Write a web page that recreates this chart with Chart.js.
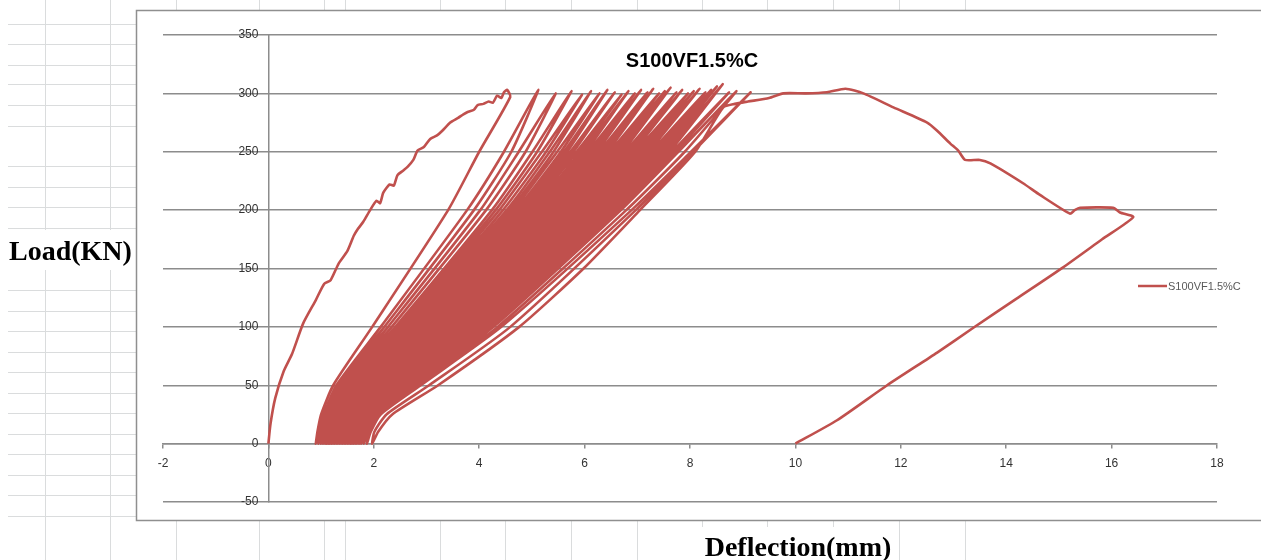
<!DOCTYPE html>
<html>
<head>
<meta charset="utf-8">
<title>S100VF1.5%C</title>
<script src="https://cdn.jsdelivr.net/npm/chart.js@4.4.1/dist/chart.umd.min.js"></script>
<style>
  html, body { margin: 0; padding: 0; background: #fff; }
  canvas { display: block; }
</style>
</head>
<body>
<canvas id="chart" width="1261" height="560"></canvas>
<script>
const chartTitle = "S100VF1.5%C";
const seriesName = "S100VF1.5%C";
const yAxisTitle = "Load(KN)";
const xAxisTitle = "Deflection(mm)";

const xTickValues = [-2, 0, 2, 4, 6, 8, 10, 12, 14, 16, 18];
const yTickValues = [-50, 0, 50, 100, 150, 200, 250, 300, 350];

// first loading branch, 0 -> ~300 kN
const firstLoadDefl = [0, 0.04, 0.13, 0.29, 0.45, 0.66, 0.90, 1.06, 1.18, 1.33, 1.50, 1.62, 1.70, 1.80, 1.93,
  2.05, 2.12, 2.18, 2.30, 2.38, 2.45, 2.56, 2.64, 2.75, 2.83, 2.95, 3.07, 3.20, 3.30, 3.45, 3.60, 3.70,
  3.78, 3.90, 3.97, 4.08, 4.18, 4.26, 4.34, 4.42, 4.47, 4.53, 4.59];
const firstLoadLoad = [0, 17, 39, 62, 77, 103, 123, 137, 140, 154, 165, 178, 184, 190, 200,
  208, 206, 215, 222, 221, 230, 234, 237, 243, 251, 254, 261, 264, 268, 275, 279, 282,
  284, 286, 290, 291, 293, 292, 298, 296, 301, 303, 297];

// cycles: unload to the residual deflection, then reload to the next peak (one row per cycle)
const cycleDefl = [
  4.00, 3.41, 1.97, 1.23, 1.00, 0.93, 0.90, 0.94, 1.05, 1.29, 2.13, 3.77, 4.47, 5.12,
  4.61, 3.90, 2.20, 1.33, 1.08, 0.97, 0.95, 1.00, 1.11, 1.37, 2.27, 4.02, 4.75, 5.45,
  4.88, 4.13, 2.34, 1.41, 1.14, 1.03, 1.00, 1.05, 1.17, 1.45, 2.41, 4.24, 5.01, 5.75,
  5.10, 4.31, 2.46, 1.49, 1.19, 1.07, 1.04, 1.09, 1.21, 1.52, 2.50, 4.38, 5.19, 5.95,
  5.27, 4.45, 2.55, 1.55, 1.24, 1.11, 1.08, 1.13, 1.26, 1.58, 2.59, 4.52, 5.34, 6.12,
  5.41, 4.58, 2.63, 1.61, 1.28, 1.15, 1.11, 1.16, 1.29, 1.63, 2.67, 4.64, 5.48, 6.28,
  5.55, 4.70, 2.71, 1.66, 1.31, 1.18, 1.14, 1.19, 1.33, 1.68, 2.75, 4.75, 5.61, 6.43,
  5.67, 4.81, 2.79, 1.71, 1.35, 1.21, 1.17, 1.22, 1.36, 1.73, 2.83, 4.86, 5.73, 6.57,
  5.79, 4.91, 2.87, 1.76, 1.38, 1.24, 1.20, 1.26, 1.39, 1.78, 2.90, 4.96, 5.85, 6.70,
  5.91, 5.01, 2.94, 1.81, 1.41, 1.28, 1.23, 1.29, 1.43, 1.83, 2.97, 5.06, 5.96, 6.83,
  6.02, 5.11, 3.01, 1.86, 1.45, 1.31, 1.26, 1.32, 1.46, 1.88, 3.04, 5.15, 6.07, 6.95,
  6.12, 5.20, 3.08, 1.91, 1.48, 1.34, 1.29, 1.35, 1.49, 1.93, 3.11, 5.24, 6.17, 7.07,
  6.23, 5.29, 3.15, 1.96, 1.51, 1.37, 1.32, 1.38, 1.53, 1.98, 3.18, 5.34, 6.28, 7.19,
  6.33, 5.39, 3.22, 2.01, 1.55, 1.40, 1.35, 1.41, 1.56, 2.03, 3.25, 5.43, 6.38, 7.30,
  6.43, 5.47, 3.29, 2.06, 1.58, 1.43, 1.38, 1.44, 1.59, 2.08, 3.32, 5.51, 6.48, 7.41,
  6.53, 5.56, 3.35, 2.11, 1.61, 1.46, 1.41, 1.47, 1.62, 2.13, 3.38, 5.60, 6.57, 7.52,
  6.62, 5.65, 3.42, 2.16, 1.64, 1.49, 1.44, 1.50, 1.66, 2.18, 3.45, 5.69, 6.67, 7.63,
  6.72, 5.73, 3.49, 2.21, 1.68, 1.52, 1.47, 1.53, 1.69, 2.23, 3.52, 5.77, 6.77, 7.74,
  6.82, 5.82, 3.56, 2.26, 1.71, 1.55, 1.50, 1.56, 1.72, 2.28, 3.59, 5.86, 6.87, 7.85,
  6.92, 5.91, 3.63, 2.31, 1.74, 1.58, 1.53, 1.59, 1.76, 2.33, 3.66, 5.95, 6.96, 7.96,
  7.01, 5.99, 3.70, 2.36, 1.78, 1.61, 1.56, 1.63, 1.79, 2.38, 3.73, 6.03, 7.06, 8.07,
  7.11, 6.08, 3.77, 2.41, 1.81, 1.65, 1.59, 1.66, 1.82, 2.43, 3.80, 6.12, 7.16, 8.18,
  7.21, 6.17, 3.84, 2.46, 1.84, 1.68, 1.62, 1.69, 1.85, 2.49, 3.87, 6.21, 7.26, 8.29,
  7.31, 6.25, 3.91, 2.51, 1.87, 1.71, 1.65, 1.72, 1.89, 2.53, 3.95, 6.29, 7.35, 8.40,
  7.40, 6.34, 3.99, 2.56, 1.91, 1.74, 1.68, 1.75, 1.92, 2.59, 4.02, 6.39, 7.45, 8.51,
  7.50, 6.43, 4.06, 2.62, 1.94, 1.77, 1.72, 1.79, 1.96, 2.65, 4.09, 6.47, 7.55, 8.62,
  7.61, 6.52, 4.14, 2.69, 1.98, 1.81, 1.76, 1.83, 2.00, 2.72, 4.18, 6.57, 7.66, 8.74,
  7.72, 6.63, 4.23, 2.76, 2.03, 1.86, 1.81, 1.88, 2.06, 2.79, 4.27, 6.69, 7.78, 8.88,
  7.90, 6.79, 4.35, 2.84, 2.10, 1.91, 1.87, 1.94, 2.13, 2.89, 4.42, 6.89, 8.02, 9.15
];
const cycleLoad = [
  250, 200, 100, 50, 25, 10, 0, 10, 25, 50, 100, 200, 250, 303,
  250, 200, 100, 50, 25, 10, 0, 10, 25, 50, 100, 200, 250, 300,
  250, 200, 100, 50, 25, 10, 0, 10, 25, 50, 100, 200, 250, 302,
  250, 200, 100, 50, 25, 10, 0, 10, 25, 50, 100, 200, 250, 299,
  250, 200, 100, 50, 25, 10, 0, 10, 25, 50, 100, 200, 250, 302,
  250, 200, 100, 50, 25, 10, 0, 10, 25, 50, 100, 200, 250, 300,
  250, 200, 100, 50, 25, 10, 0, 10, 25, 50, 100, 200, 250, 303,
  250, 200, 100, 50, 25, 10, 0, 10, 25, 50, 100, 200, 250, 301,
  250, 200, 100, 50, 25, 10, 0, 10, 25, 50, 100, 200, 250, 299,
  250, 200, 100, 50, 25, 10, 0, 10, 25, 50, 100, 200, 250, 302,
  250, 200, 100, 50, 25, 10, 0, 10, 25, 50, 100, 200, 250, 300,
  250, 200, 100, 50, 25, 10, 0, 10, 25, 50, 100, 200, 250, 303,
  250, 200, 100, 50, 25, 10, 0, 10, 25, 50, 100, 200, 250, 301,
  250, 200, 100, 50, 25, 10, 0, 10, 25, 50, 100, 200, 250, 304,
  250, 200, 100, 50, 25, 10, 0, 10, 25, 50, 100, 200, 250, 300,
  250, 200, 100, 50, 25, 10, 0, 10, 25, 50, 100, 200, 250, 302,
  250, 200, 100, 50, 25, 10, 0, 10, 25, 50, 100, 200, 250, 305,
  250, 200, 100, 50, 25, 10, 0, 10, 25, 50, 100, 200, 250, 301,
  250, 200, 100, 50, 25, 10, 0, 10, 25, 50, 100, 200, 250, 303,
  250, 200, 100, 50, 25, 10, 0, 10, 25, 50, 100, 200, 250, 300,
  250, 200, 100, 50, 25, 10, 0, 10, 25, 50, 100, 200, 250, 302,
  250, 200, 100, 50, 25, 10, 0, 10, 25, 50, 100, 200, 250, 304,
  250, 200, 100, 50, 25, 10, 0, 10, 25, 50, 100, 200, 250, 301,
  250, 200, 100, 50, 25, 10, 0, 10, 25, 50, 100, 200, 250, 303,
  250, 200, 100, 50, 25, 10, 0, 10, 25, 50, 100, 200, 250, 306,
  250, 200, 100, 50, 25, 10, 0, 10, 25, 50, 100, 200, 250, 308,
  250, 200, 100, 50, 25, 10, 0, 10, 25, 50, 100, 200, 250, 301,
  250, 200, 100, 50, 25, 10, 0, 10, 25, 50, 100, 200, 250, 302,
  250, 200, 100, 50, 25, 10, 0, 10, 25, 50, 100, 200, 250, 301
];

// last unloading, final reload past the peak, softening branch and final unloading to 10 mm
const finalDefl = [8.06, 6.97, 4.59, 3.05, 2.24, 2.01, 1.97, 2.08, 2.35, 3.22, 4.76, 5.98, 7.05, 8.10, 8.63,
  8.85, 9.10, 9.50, 9.77, 10.20, 10.60, 10.95, 11.29, 11.86, 12.50, 12.69, 12.94, 13.09, 13.22,
  13.50, 13.70, 14.32, 14.64, 15.21, 15.30, 15.40, 16.03, 16.16, 16.41,
  15.82, 15.08, 14.19, 13.37, 12.69, 11.74, 10.79, 10.00];
const finalLoad = [250, 200, 100, 50, 25, 10, 0, 10, 25, 50, 100, 150, 200, 250, 288,
  291, 293, 296, 300, 300, 301, 304, 300, 288, 275, 268, 257, 251, 243,
  243, 240, 223, 213, 197, 200, 202, 202, 198, 194,
  175, 151, 124, 99, 78, 50, 20, 0];

// spreadsheet cell lines around the chart object
const sheetRowLines = [24, 44, 65, 84, 105, 126, 166, 187, 207, 228, 290, 311, 331, 352, 372, 393, 413, 434, 454, 475, 495, 516];
const sheetColLines = [45, 110, 176, 259, 324, 345, 440, 505, 571, 637, 702, 767, 833, 899, 965];

const deflection = firstLoadDefl.concat(cycleDefl, finalDefl);
const load = firstLoadLoad.concat(cycleLoad, finalLoad);
const points = deflection.map((x, i) => ({ x: x, y: load[i] }));

const lineColor = "#C0504D";
const gridColor = "#8c8c8c";

const sheetDecor = {
  id: "sheetDecor",
  beforeDraw(chart) {
    const ctx = chart.ctx;
    const W = chart.width, H = chart.height;
    ctx.save();
    ctx.fillStyle = "#ffffff";
    ctx.fillRect(0, 0, W, H);
    ctx.strokeStyle = "#dadcdd";
    ctx.lineWidth = 1;
    ctx.beginPath();
    sheetRowLines.forEach(y => { ctx.moveTo(8, y + 0.5); ctx.lineTo(136, y + 0.5); });
    sheetColLines.forEach(x => { ctx.moveTo(x + 0.5, 0); ctx.lineTo(x + 0.5, H); });
    ctx.stroke();
    // text boxes holding the axis titles
    ctx.fillStyle = "#ffffff";
    ctx.fillRect(6, 230, 130, 40);
    ctx.fillRect(700, 527, 196, 33);
    // chart object frame
    ctx.fillRect(136, 10, W - 136, 510);
    ctx.strokeStyle = "#8f8f8f";
    ctx.lineWidth = 1.5;
    ctx.strokeRect(136.5, 10.5, W, 510);
    ctx.restore();
  },
  afterDraw(chart) {
    const ctx = chart.ctx;
    const area = chart.chartArea;
    ctx.save();
    // chart title
    ctx.fillStyle = "#000000";
    ctx.font = "bold 20px 'Liberation Sans', Arial, sans-serif";
    ctx.textAlign = "center";
    ctx.textBaseline = "alphabetic";
    ctx.fillText(chartTitle, (area.left + area.right) / 2 + 2, 67);
    // legend
    ctx.strokeStyle = chart.data.datasets[0].borderColor;
    ctx.lineWidth = 2.5;
    ctx.beginPath();
    ctx.moveTo(1138, 286);
    ctx.lineTo(1167, 286);
    ctx.stroke();
    ctx.fillStyle = "#595959";
    ctx.font = "11px 'Liberation Sans', Arial, sans-serif";
    ctx.textAlign = "left";
    ctx.textBaseline = "middle";
    ctx.fillText(chart.data.datasets[0].label, 1168, 287);
    // axis titles (text boxes on the sheet)
    ctx.fillStyle = "#000000";
    ctx.font = "bold 28px 'Liberation Serif', 'Times New Roman', serif";
    ctx.textBaseline = "alphabetic";
    ctx.textAlign = "left";
    ctx.fillText(yAxisTitle, 9, 260);
    ctx.textAlign = "center";
    ctx.fillText(xAxisTitle, 798, 556);
    ctx.restore();
  }
};

new Chart(document.getElementById("chart"), {
  type: "scatter",
  data: {
    datasets: [{
      label: seriesName,
      data: points,
      showLine: true,
      borderColor: lineColor,
      backgroundColor: lineColor,
      borderWidth: 2.6,
      pointRadius: 0,
      pointHoverRadius: 0,
      fill: false,
      tension: 0.2
    }]
  },
  options: {
    responsive: false,
    animation: false,
    events: [],
    layout: { padding: { left: 163, right: 44, top: 35, bottom: 58 } },
    plugins: {
      legend: { display: false },
      title: { display: false },
      tooltip: { enabled: false }
    },
    scales: {
      x: {
        type: "linear",
        position: { y: 0 },
        min: -2,
        max: 18,
        afterBuildTicks: s => { s.ticks = xTickValues.map(v => ({ value: v })); },
        grid: { drawOnChartArea: false, drawTicks: true, tickLength: 4, color: gridColor, lineWidth: 1.5 },
        border: { display: true, color: gridColor, width: 1.5 },
        ticks: {
          padding: 9, color: "#333333", autoSkip: false, maxRotation: 0,
          font: { family: "'Liberation Sans', Arial, sans-serif", size: 12 }
        }
      },
      y: {
        type: "linear",
        position: { x: 0 },
        min: -50,
        max: 350,
        afterBuildTicks: s => { s.ticks = yTickValues.map(v => ({ value: v })); },
        grid: { drawTicks: false, color: gridColor, lineWidth: 1.5 },
        border: { display: true, color: gridColor, width: 1.5 },
        ticks: {
          padding: 0, color: "#333333",
          // labels sit left of the axis drawn at x = 0
          callback: v => v + "   ",
          font: { family: "'Liberation Sans', Arial, sans-serif", size: 12 }
        }
      }
    }
  },
  plugins: [sheetDecor]
});
</script>
</body>
</html>
